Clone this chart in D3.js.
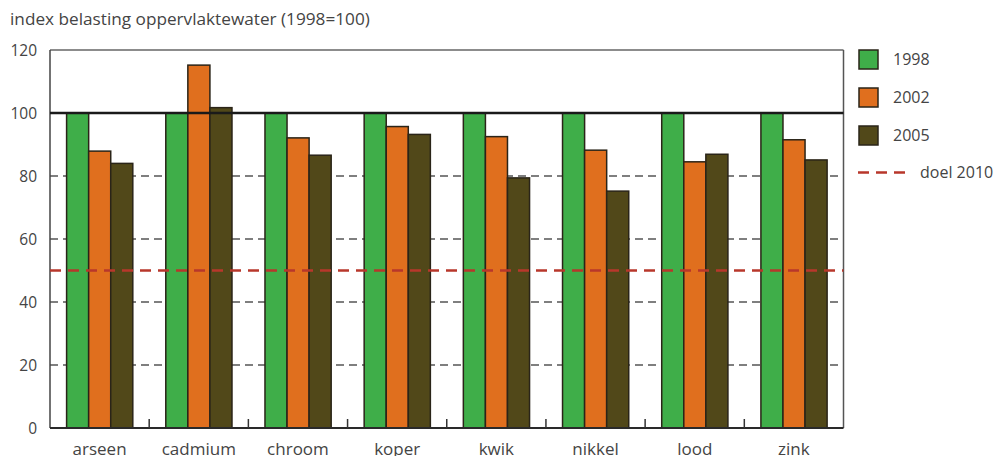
<!DOCTYPE html>
<html><head><meta charset="utf-8">
<script src="https://cdn.jsdelivr.net/npm/d3@7"></script>
<style>body{margin:0;background:#fff}svg{display:block;font-family:"Open Sans",sans-serif}</style>
</head><body>
<svg id="c" width="1000" height="456"></svg>
<script>
const categories = ["arseen","cadmium","chroom","koper","kwik","nikkel","lood","zink"];
const seriesNames = ["1998","2002","2005"];
const values1998 = [100,100,100,100,100,100,100,100];
const values2002 = [87.9,115.2,92.1,95.7,92.5,88.2,84.5,91.5];
const values2005 = [84.0,101.7,86.6,93.2,79.4,75.2,86.9,85.1];
const yTicks = [0,20,40,60,80,100,120];
const gridValues = [20,40,60,80];
const baselineValue = 100;
const targetValue = 50;
const targetLabel = "doel 2010";
const title = "index belasting oppervlaktewater (1998=100)";
const colors = ["#3fae49","#e06f1e","#514819"];

const svg = d3.select("#c");
const L=50, R=843.5, T=50, B=428;
const x = d3.scaleBand().domain(categories).range([L,R]);
const inner = d3.scaleBand().domain(seriesNames).range([16.6, 16.6+66.2]);
const y = d3.scaleLinear().domain([0,120]).range([B,T]);
const series = [values1998,values2002,values2005];

svg.append("text").attr("x",10).attr("y",25).attr("fill","#444").attr("font-size",17.2).text(title);

// grid
svg.append("g").selectAll("line").data(gridValues).join("line")
  .attr("x1",L).attr("x2",R).attr("y1",d=>y(d)).attr("y2",d=>y(d))
  .attr("stroke","#555").attr("stroke-width",1.5).attr("stroke-dasharray","8,5");

// bars
const g = svg.append("g");
categories.forEach((c,i)=>{
  seriesNames.forEach((s,j)=>{
    g.append("rect").attr("x",x(c)+inner(s)).attr("width",inner.bandwidth())
      .attr("y",y(series[j][i])).attr("height",B-y(series[j][i]))
      .attr("fill",colors[j]).attr("stroke","#2a2418").attr("stroke-width",1.5);
  });
});

// frame
svg.append("line").attr("x1",L).attr("x2",R).attr("y1",T).attr("y2",T).attr("stroke","#666").attr("stroke-width",1.5);
svg.append("line").attr("x1",R).attr("x2",R).attr("y1",T).attr("y2",B).attr("stroke","#555").attr("stroke-width",1.5);
svg.append("line").attr("x1",L).attr("x2",L).attr("y1",T).attr("y2",B).attr("stroke","#444").attr("stroke-width",1.5);

// baseline 100
svg.append("line").attr("x1",L).attr("x2",R).attr("y1",y(baselineValue)).attr("y2",y(baselineValue))
  .attr("stroke","#1a1a1a").attr("stroke-width",2.5);
// target
svg.append("line").attr("x1",L).attr("x2",R).attr("y1",y(targetValue)).attr("y2",y(targetValue))
  .attr("stroke","#b8372b").attr("stroke-width",2.5).attr("stroke-dasharray","11,7");

// x axis
const xAxis = svg.append("g").attr("transform",`translate(0,${B})`);
xAxis.append("line").attr("x1",L).attr("x2",R).attr("stroke","#2a2a2a").attr("stroke-width",2);
xAxis.selectAll(".tk").data(categories.slice(1)).join("line")
  .attr("x1",d=>x(d)).attr("x2",d=>x(d)).attr("y1",0).attr("y2",-9)
  .attr("stroke","#333").attr("stroke-width",1.5);
xAxis.selectAll("text").data(categories).join("text")
  .attr("x",d=>x(d)+x.bandwidth()/2).attr("y",27).attr("text-anchor","middle")
  .attr("fill","#444").attr("font-size",17).text(d=>d);

// y labels
svg.append("g").selectAll("text").data(yTicks).join("text")
  .attr("x",37).attr("y",d=>y(d)+5.5).attr("text-anchor","end")
  .attr("fill","#444").attr("font-size",15.5).text(d=>d);

// legend
const lg = svg.append("g");
seriesNames.forEach((s,j)=>{
  const yy = 50 + j*38;
  lg.append("rect").attr("x",859).attr("y",yy).attr("width",19).attr("height",19)
    .attr("fill",colors[j]).attr("stroke","#2a2418").attr("stroke-width",1.5);
  lg.append("text").attr("x",893).attr("y",yy+15).attr("fill","#444").attr("font-size",16).text(s);
});
lg.append("line").attr("x1",858).attr("x2",905).attr("y1",172.5).attr("y2",172.5)
  .attr("stroke","#b8372b").attr("stroke-width",2.5).attr("stroke-dasharray","11,7");
lg.append("text").attr("x",920).attr("y",178).attr("fill","#444").attr("font-size",16).text(targetLabel);
</script>
</body></html>
